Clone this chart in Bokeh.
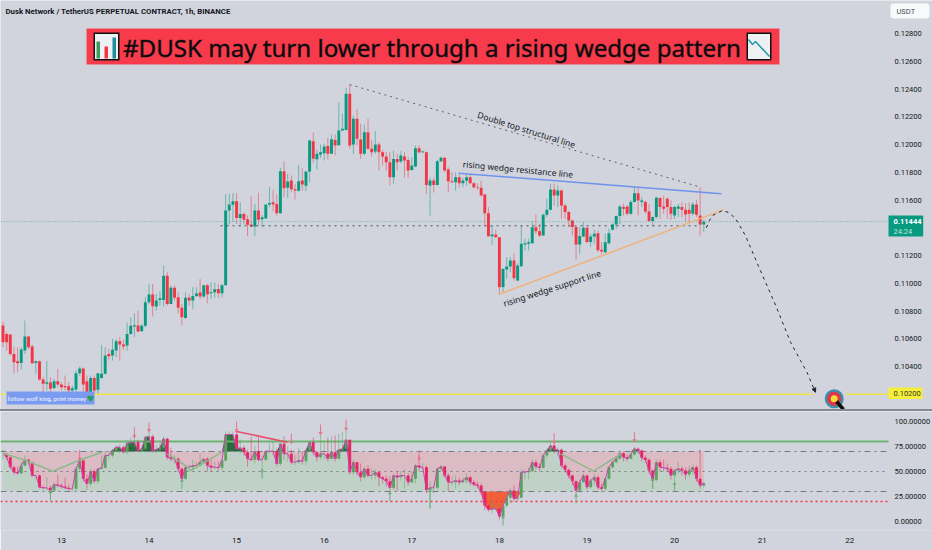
from bokeh.embed import file_html
from bokeh.layouts import column
from bokeh.models import (Arrow, BoxAnnotation, Div, FixedTicker, Label, NormalHead,
                          PrintfTickFormatter, Range1d)
from bokeh.plotting import figure
from bokeh.resources import INLINE
import numpy as np

opens = [
    10695,10635,10630,10491,10438,10426,10515,10616,10544,10426,
    10438,10306,10275,10284,10246,10294,10270,10260,10258,10227,
    10234,10352,10385,10294,10215,10318,10232,10318,10347,10491,
    10479,10515,10582,10558,10551,10635,10688,10695,10654,10693,
    10863,10919,10832,10880,10880,11055,10851,10967,10899,10823,
    10750,10897,10875,10909,10933,10904,10986,10928,10935,10959,
    10928,10986,11524,11565,11591,11471,11500,11462,11423,11409,
    11524,11462,11467,11567,11584,11572,11505,11808,11688,11740,
    11678,11666,11740,11702,11805,12024,11894,11928,11937,11990,
    11933,12033,11995,12101,12105,12365,12000,12185,12036,11933,
    12089,11969,11949,12000,11945,11913,11872,11764,11896,11877,
    11913,11889,11817,11841,11973,11945,11945,11704,11740,11709,
    11880,11904,11820,11736,11728,11764,11721,11738,11764,11721,
    11692,11688,11640,11505,11339,11351,11332,10972,11099,11121,
    11164,11020,11123,11279,11284,11289,11404,11375,11345,11494,
    11530,11676,11633,11669,11561,11513,11453,11405,11280,11337,
    11400,11297,11337,11361,11241,11224,11289,11385,11424,11484,
    11549,11553,11501,11585,11649,11585,11585,11517,11448,11477,
    11614,11553,11609,11549,11489,11537,11549,11529,11529,11501,
    11568,11489,11424]
highs = [
    10724,10647,10630,10539,10539,10539,10731,10623,10558,10443,
    10443,10323,10438,10323,10311,10383,10287,10335,10287,10263,
    10371,10400,10395,10335,10335,10335,10352,10556,10539,10527,
    10599,10599,10611,10594,10719,10755,10784,10803,10707,10899,
    10995,10995,10923,10943,11128,11080,10983,10983,10935,10851,
    10935,10923,10971,10971,11031,10986,10995,11007,11007,10995,
    10995,11644,11644,11649,11649,11584,11512,11488,11628,11572,
    11652,11493,11567,11692,11673,11640,11832,11877,11788,11776,
    11716,11853,11827,11805,12033,12086,11961,12000,12005,12048,
    12072,12072,12305,12221,12408,12432,12209,12257,12149,12144,
    12185,12029,12096,12017,11961,11945,11949,11956,11933,11952,
    11945,11913,11908,11993,11993,11956,11949,11760,11760,11889,
    11913,11908,11836,11800,11800,11784,11760,11784,11788,11728,
    11721,11740,11644,11548,11416,11385,11332,11104,11188,11188,
    11217,11145,11416,11320,11320,11452,11495,11428,11501,11609,
    11717,11717,11705,11676,11573,11520,11457,11405,11405,11441,
    11405,11357,11385,11381,11297,11357,11393,11433,11489,11561,
    11573,11561,11601,11693,11688,11621,11597,11573,11481,11625,
    11621,11633,11621,11597,11561,11573,11585,11577,11585,11585,
    11601,11693,11457]
lows = [
    10539,10515,10479,10352,10359,10378,10491,10527,10419,10347,
    10299,10215,10227,10155,10234,10251,10227,10227,10215,10198,
    10203,10335,10215,10160,10184,10203,10198,10311,10342,10443,
    10443,10467,10443,10520,10515,10630,10611,10647,10654,10683,
    10851,10760,10803,10839,10832,10839,10851,10875,10784,10700,
    10743,10839,10815,10899,10887,10895,10856,10887,10895,10895,
    10899,10983,11423,11440,11428,11409,11423,11339,11404,11339,
    11423,11404,11464,11548,11519,11488,11500,11620,11616,11656,
    11603,11661,11668,11664,11728,11865,11820,11901,11885,11892,
    11933,11921,11993,12101,12101,11969,11932,11993,11896,11920,
    11961,11913,11932,11812,11848,11812,11704,11716,11812,11865,
    11760,11760,11812,11836,11933,11937,11644,11486,11654,11704,
    11872,11800,11656,11721,11668,11688,11692,11704,11716,11680,
    11673,11627,11409,11337,11277,11327,10919,10936,11032,11080,
    11020,11015,11116,11236,11236,11284,11356,11332,11340,11477,
    11525,11561,11549,11465,11465,11405,11345,11169,11213,11333,
    11285,11261,11280,11225,11213,11217,11280,11380,11393,11424,
    11489,11489,11493,11585,11489,11549,11501,11441,11409,11465,
    11465,11501,11465,11457,11465,11477,11477,11441,11441,11489,
    11477,11344,11369]
closes = [
    10575,10575,10491,10431,10424,10522,10616,10539,10424,10438,
    10306,10275,10287,10239,10294,10270,10251,10251,10227,10244,
    10352,10385,10270,10215,10318,10227,10352,10347,10479,10474,
    10520,10582,10558,10544,10635,10693,10698,10652,10693,10863,
    10919,10835,10875,10892,11055,10851,10967,10895,10823,10755,
    10895,10875,10909,10926,10904,10986,10921,10935,10957,10928,
    10986,11524,11567,11591,11471,11500,11457,11421,11409,11524,
    11457,11476,11567,11579,11567,11505,11808,11685,11733,11678,
    11668,11736,11712,11805,12029,11897,11933,11945,11985,11933,
    12038,11993,12101,12113,12365,11993,12185,12041,11933,12089,
    11969,11945,12000,11945,11913,11872,11764,11896,11872,11921,
    11884,11812,11848,11973,11945,11949,11709,11740,11709,11880,
    11904,11812,11736,11728,11764,11721,11740,11764,11721,11692,
    11688,11632,11505,11339,11351,11332,10972,11104,11121,11164,
    11037,11128,11284,11289,11296,11404,11375,11344,11494,11530,
    11676,11633,11669,11561,11513,11453,11405,11280,11340,11400,
    11297,11337,11357,11237,11229,11296,11361,11424,11484,11553,
    11537,11501,11585,11649,11597,11597,11517,11448,11477,11616,
    11549,11537,11549,11501,11549,11553,11529,11496,11501,11568,
    11493,11424,11444]

rsi_close = [
    67.7,64.3,54.3,49.3,48.3,56,61.7,59.3,46,46,
    34.3,33.7,33.7,31,37,36,35,33.7,32.7,32.7,
    52.7,61,42.7,37.7,50.3,40.3,52.7,53.7,66,66,
    71,74.3,74.3,69.3,78.3,79,79.3,71,72.7,84.3,
    85,71,72,73.7,82.7,64.3,62.7,62.7,52.7,42.7,
    54.3,54.3,56,56,59.3,62.7,56,54.3,54.3,53.7,
    61,87,87,87,72.7,73.7,69.3,62.7,61.7,70.3,
    61.7,61.7,70.3,70.3,70.3,57.7,77.7,67.7,67.7,59.3,
    59.3,61,60.3,71,79.3,69.3,64.3,67.7,67.7,62.7,
    69.3,62.7,71.7,72.7,81.7,49.3,59.3,49.3,44.3,52.7,
    46,46,49.3,44.3,42.7,40.3,33.7,46,44.3,46,
    46,39.3,42.7,56,54.3,54.3,31.7,33.7,33.7,52.7,
    55,46,39.3,39.3,41,39.3,41,44.3,39.3,37,
    36,29.3,16,11.7,12.7,12.7,5,16,23.7,31,
    22.7,23.7,49.3,49.3,50.3,59.3,55,53.7,66,71,
    76,71.7,71.7,56,51.7,46,40.3,31,39.3,46,
    34.3,41,44.3,34.3,32.7,42.7,54.3,59.3,62.7,68.3,
    64.3,62.7,67,72.7,71,63.7,61.7,51,41.7,59.3,
    54.3,53.7,52.7,46,51,52.7,51,47,51,54.3,
    42.7,36,38.3]
rsi_high = [
    72,68,65,56,55,60,66,63,60,47,47,36,44,36,39,47,38,44,37,36,
    55,64,62,47,53,52,53,66,71,69,73,76,77,76,81,84,88,82,75,86,
    92,87,76,78,85,84,74,66,64,54,56,57,62,60,68,63,64,62,60,60,
    62,90,90,90,90,82,76,72,85,76,85,66,71,78,80,73,78,85,75,72,
    66,74,70,71,80,84,70,88,80,84,85,86,88,90,93,82,62,60,58,55,
    56,53,52,50,46,46,45,48,50,50,52,48,50,58,66,58,56,40,36,54,
    56,55,48,45,46,44,44,48,46,42,40,38,30,17,22,17,14,16,30,33,
    36,27,52,52,54,62,62,58,68,73,79,78,74,73,58,53,47,41,42,48,
    47,43,48,46,38,44,55,61,65,71,70,67,69,75,74,72,66,63,52,62,
    62,62,58,55,53,60,55,54,56,57,56,72,40]
rsi_low = [
    62,62,53,47,47,47,55,57,44,42,33,32,31,23,30,34,33,32,31,30,
    31,51,40,32,35,38,38,52,53,62,64,70,68,68,67,76,74,70,70,72,
    82,69,68,70,72,62,60,58,50,40,41,50,51,53,55,57,50,50,52,51,
    51,60,80,78,70,68,66,55,60,58,60,43,60,68,66,55,56,62,60,57,
    56,58,57,56,70,66,60,62,62,60,62,60,62,70,72,47,47,46,40,42,
    44,42,42,35,38,35,30,32,30,41,33,36,38,38,50,52,28,14,28,32,
    50,44,30,36,33,36,38,38,36,35,33,27,11,10,8,11,2,4,14,18,
    20,20,24,42,42,50,52,50,53,63,71,68,65,54,49,43,36,28,29,39,
    32,33,36,32,29,31,42,53,58,62,60,60,62,66,68,60,59,48,33,40,
    50,50,50,42,33,48,46,42,45,47,40,33,34]

# wedge annotations: bar number and price
double_top_bars = [95, 190.5]
double_top_prices = [12432, 11697]
resistance_bars = [124.8, 196.8]
resistance_prices = [11793, 11645]
support_bars = [135.8, 197.4]
support_prices = [10919, 11529]
neckline_bars = [59.6, 190.3]
neckline_prices = [11414, 11414]
forecast_bars = [192.7, 193.5, 194.4, 197.1, 198.8, 200.7, 203.4, 207.5, 211.7, 215.8, 218.5, 220.3, 221.4, 222.6]
forecast_prices = [11400, 11450, 11488, 11524, 11510, 11467, 11344, 11092, 10840, 10573, 10443, 10357, 10287, 10215]
target_price = 10200

# rsi pane annotations
zig_bars = [[0, 5.7, 13.7, 20.7, 27.1], [45, 50, 51.5, 60], [152.8, 161.8, 169.3]]
zig_rsi = [[68.3, 61.7, 50.3, 61, 69.3], [67.7, 56, 51, 69.3], [67.7, 50.3, 67.7]]
div_bars = [63.7, 77.9]
div_rsi = [90.3, 79.3]
down_bars = [21, 36, 40, 64, 79, 87, 94, 114, 151, 173]
down_tip = [62.7, 85, 91, 91, 79.3, 88.3, 92.7, 62.7, 79.3, 81]
down_tail = [71.7, 94.3, 99, 100, 88, 97, 102, 71, 88.3, 89.3]
up_bars = [13, 49, 71, 106, 117, 137, 157, 178, 184]
up_tip = [29.3, 41, 51, 28.3, 31, 4.3, 26, 41.7, 37.7]
up_tail = [21, 32.7, 42.7, 20.3, 12.7, -4, 18.3, 32.7, 29.3]

day_labels = ["13", "14", "15", "16", "17", "18", "19", "20", "21", "22"]
day_bars = [16, 40, 64, 88, 112, 136, 160, 184, 208, 232]
price_ticks = [10400, 10600, 10800, 11000, 11200, 11600, 11800, 12000, 12200, 12400, 12600, 12800]
rsi_ticks = [0, 25, 50, 75, 100]

BG = "#d1d4dc"
UP = "#089981"
DOWN = "#f23645"
TEXT = "#131722"
UNIT = 1e-5


# screen position in the reference -> chart coordinates, for decorations only
def px_x(px):
    return (px - 2.5) / 3.65


def px_y(px):
    return (12800 - (px - 33) * 7.207) * UNIT


def prices(values):
    return np.array(values) * UNIT


def style_scale(ax):
    ax.axis_line_color = None
    ax.major_tick_line_color = None
    ax.minor_tick_line_color = None
    ax.major_label_text_font = "Roboto"
    ax.major_label_text_font_size = "7.5px"
    ax.major_label_text_color = TEXT


bars = np.arange(len(closes))
o = prices(opens)
h = prices(highs)
l = prices(lows)
c = prices(closes)
up = c >= o
plot_end = px_x(888)
plot_start = px_x(0)

p = figure(width=932, height=409, output_backend="svg", toolbar_location=None,
           x_axis_location=None, y_axis_location="right",
           x_range=Range1d(plot_start, px_x(932)), y_range=Range1d(px_y(409), px_y(0)),
           background_fill_color=BG, border_fill_color=BG, outline_line_color=None, min_border=0)
p.grid.visible = False

# price scale sits inside the frame so the tags can be drawn over it
price_axis = p.yaxis[0]
price_axis.fixed_location = plot_end
price_axis.ticker = FixedTicker(ticks=list(prices(price_ticks)))
price_axis.formatter = PrintfTickFormatter(format="%.5f")
price_axis.major_label_standoff = 0
style_scale(price_axis)

# candles
p.segment(bars[up], h[up], bars[up], l[up], line_color=UP, line_alpha=0.5, line_width=1)
p.segment(bars[~up], h[~up], bars[~up], l[~up], line_color=DOWN, line_alpha=0.5, line_width=1)
p.vbar(bars[up], 0.8, c[up], o[up], fill_color=UP, line_color=None)
p.vbar(bars[~up], 0.8, o[~up], c[~up], fill_color=DOWN, line_color=None)

# levels and wedge lines
p.line([plot_start, plot_end], [c[-1], c[-1]], line_color="#3fae9a", line_alpha=0.8, line_dash=[1, 2], line_width=1)
p.line(neckline_bars, prices(neckline_prices), line_color="#4a4d57", line_dash="dotted", line_width=1)
p.line(double_top_bars, prices(double_top_prices), line_color="#5d606b", line_dash="dotted", line_width=1)
p.line(resistance_bars, prices(resistance_prices), line_color="#6f92ee", line_width=1.5)
p.line(support_bars, prices(support_prices), line_color="#efb27c", line_width=1.5)
p.line(forecast_bars, prices(forecast_prices), line_color="#202329", line_dash=[3, 4], line_width=1)
p.add_layout(Arrow(end=NormalHead(size=4, fill_color="#202329", line_color="#202329"),
                   x_start=forecast_bars[-2], y_start=forecast_prices[-2] * UNIT,
                   x_end=forecast_bars[-1], y_end=forecast_prices[-1] * UNIT, line_alpha=0))

# target line, with the gap around the bullseye
p.line([plot_start, px_x(813)], [target_price * UNIT] * 2, line_color="#f2e34a", line_width=1.5)
p.line([px_x(845), plot_end], [target_price * UNIT] * 2, line_color="#f2e34a", line_width=1.5)
for size, colour in [(19, "#3f8fa8"), (14, "#e2344a"), (7, "#f2dc3a")]:
    p.scatter([px_x(833.7)], [px_y(398.3)], marker="circle", size=size, fill_color=colour, line_color=None)
p.line([px_x(836), px_x(843)], [px_y(401), px_y(409)], line_color="#101010", line_width=3.5)

# banner
p.add_layout(BoxAnnotation(left=px_x(86), right=px_x(779), top=px_y(28), bottom=px_y(64),
                           fill_color="#f73b4b", fill_alpha=1, line_color="#e8a0a8", line_width=1))
p.add_layout(Label(x=px_x(122.5), y=px_y(46.5), text="#DUSK may turn lower through a rising wedge pattern",
                   text_font="Noto Sans", text_font_size="24.1px", text_color="#0a0a0e", text_baseline="middle",
                   text_outline_color="#0a0a0e66"))
for left, right, top, bottom, colour in [(93, 119, 32, 60, "#101010"), (94.5, 117.5, 33.5, 58.5, "#eef1f3"),
                                         (96, 99.5, 41, 58, "#3f9a5c"), (104, 107.5, 46, 58, "#f23645"),
                                         (112, 115.5, 37, 58, "#1f8fa0"),
                                         (746, 771, 32, 60, "#101010"), (747.5, 769.5, 33.5, 58.5, "#eef1f3")]:
    p.add_layout(BoxAnnotation(left=px_x(left), right=px_x(right), top=px_y(top), bottom=px_y(bottom),
                               fill_color=colour, fill_alpha=1, line_color=None))
p.line([px_x(748), px_x(752), px_x(755), px_x(769)], [px_y(39), px_y(44), px_y(41), px_y(56)],
       line_color="#1f9aa8", line_width=1.5, level="overlay")

# texts
p.add_layout(Label(x=px_x(5), y=px_y(11), text="Dusk Network / TetherUS PERPETUAL CONTRACT, 1h, BINANCE",
                   text_font="Roboto", text_font_size="7.8px", text_color=TEXT, text_baseline="middle",
                   text_font_style="bold"))
for text, x, y, angle in [("Double top structural line", 526, 129, -17.4),
                          ("rising wedge resistance line", 517.5, 168.5, -5.5),
                          ("rising wedge support line", 551.5, 287.5, 17.7)]:
    p.add_layout(Label(x=px_x(x), y=px_y(y), text=text, angle=angle, angle_units="deg", text_font="Noto Sans",
                       text_font_size="8.5px", text_color=TEXT, text_align="center", text_baseline="middle"))

p.add_layout(BoxAnnotation(left=px_x(6), right=px_x(94), top=px_y(391), bottom=px_y(404),
                           fill_color="#7a9bf0", fill_alpha=1, line_color=None))
p.add_layout(Label(x=px_x(7), y=px_y(398), text="follow wolf king, print money", text_font="Roboto",
                   text_font_size="6.2px", text_color="#f4f6ff", text_baseline="middle"))
p.add_layout(Label(x=px_x(90), y=px_y(398), text="\u2665", text_font="DejaVu Sans", text_font_size="9px",
                   text_color="#2f9e58", text_align="center", text_baseline="middle"))

# price axis tags
p.add_layout(BoxAnnotation(left=px_x(888), right=px_x(922), top=px_y(387), bottom=px_y(398.5),
                           fill_color="#f7ee3c", fill_alpha=1, line_color=None))
p.add_layout(Label(x=px_x(893), y=px_y(393), text="0.10200", text_font="Roboto", text_font_size="7.5px",
                   text_color="#2c3a20", text_baseline="middle"))
p.add_layout(BoxAnnotation(left=px_x(888), right=px_x(922.7), top=px_y(215), bottom=px_y(236),
                           fill_color=UP, fill_alpha=1, line_color=None))
p.add_layout(Label(x=px_x(893), y=px_y(221), text="0.11444", text_font="Roboto", text_font_size="7.5px",
                   text_color="#ffffff", text_baseline="middle", text_font_style="bold"))
p.add_layout(Label(x=px_x(893), y=px_y(231), text="24:24", text_font="Roboto", text_font_size="7.5px",
                   text_color="#c5e6de", text_baseline="middle"))
p.add_layout(BoxAnnotation(left=px_x(890), right=px_x(929), top=px_y(3), bottom=px_y(18), fill_color="#f8f9fb",
                           fill_alpha=1, line_color=None, border_radius=3))
p.add_layout(Label(x=px_x(896), y=px_y(11), text="USDT", text_font="Roboto", text_font_size="7.5px",
                   text_color="#4a4d57", text_baseline="middle"))

# separator between the panes
sep = Div(text="", width=932, height=2, margin=(0, 0, 0, 0),
          styles={"background-color": "#868993", "overflow": "hidden"})

# rsi pane
rsi = np.array(rsi_close)
rsi_o = np.array([rsi_close[0]] + rsi_close[:-1])
rsi_h = np.array(rsi_high)
rsi_l = np.array(rsi_low)
rsi_up = rsi >= rsi_o

q = figure(width=932, height=139, output_backend="svg", toolbar_location=None, y_axis_location="right",
           x_range=p.x_range, y_range=Range1d(-9, 110),
           background_fill_color=BG, border_fill_color=BG, outline_line_color=None,
           min_border=0, min_border_bottom=20)
q.grid.visible = False
rsi_axis = q.yaxis[0]
rsi_axis.fixed_location = plot_end
rsi_axis.ticker = FixedTicker(ticks=rsi_ticks)
rsi_axis.formatter = PrintfTickFormatter(format="%.5f")
rsi_axis.major_label_standoff = 0
style_scale(rsi_axis)
q.xaxis[0].ticker = FixedTicker(ticks=day_bars)
q.xaxis[0].major_label_overrides = dict(zip(day_bars, day_labels))
style_scale(q.xaxis[0])
q.xaxis[0].major_label_text_font_size = "8px"
q.xaxis[0].major_label_standoff = 1

clipped = np.clip(rsi, 30, 70)
q.varea(bars, clipped, np.full(len(bars), 70), fill_color="#dcbcc4")
q.varea(bars, np.full(len(bars), 30), clipped, fill_color="#c0d2c8")
q.varea(bars, np.full(len(bars), 70), np.maximum(rsi, 70), fill_color="#2b6a40")
q.varea(bars, np.minimum(rsi, 30), np.full(len(bars), 30), fill_color="#f2603a")

level_span = [plot_start, plot_end]
q.line(level_span, [80, 80], line_color="#6cb46f", line_width=2)
q.line(level_span, [70, 70], line_color="#787b86", line_dash="dashdot", line_width=1)
q.line(level_span, [50, 50], line_color="#787b86", line_dash="dotted", line_width=1)
q.line(level_span, [30, 30], line_color="#787b86", line_dash="dashdot", line_width=1)
q.line(level_span, [20, 20], line_color=DOWN, line_dash=[2, 3], line_width=1.5)

q.segment(bars[rsi_up], rsi_h[rsi_up], bars[rsi_up], rsi_l[rsi_up], line_color="#5aa35e", line_alpha=0.5)
q.segment(bars[~rsi_up], rsi_h[~rsi_up], bars[~rsi_up], rsi_l[~rsi_up], line_color="#e5265f", line_alpha=0.5)
q.vbar(bars[rsi_up], 0.8, rsi[rsi_up], rsi_o[rsi_up], fill_color="#5aa35e", line_color=None)
q.vbar(bars[~rsi_up], 0.8, rsi_o[~rsi_up], rsi[~rsi_up], fill_color="#e5265f", line_color=None)
q.line(bars, rsi, line_color="#cf3fb5", line_width=1)

q.multi_line(zig_bars, zig_rsi, line_color="#8dba8d", line_width=1.5)
q.line(div_bars, div_rsi, line_color="#e84c6c", line_width=1.5)

q.segment(down_bars, down_tail, down_bars, down_tip, line_color="#e8738a", line_width=1)
q.scatter(down_bars, down_tip, marker="inverted_triangle", size=4, fill_color="#e8738a", line_color=None)
q.segment(up_bars, up_tail, up_bars, up_tip, line_color="#6fb07a", line_width=1)
q.scatter(up_bars, up_tip, marker="triangle", size=4, fill_color="#6fb07a", line_color=None)

layout = column(p, sep, q, spacing=0)

open("out.html", "w").write(file_html(layout, INLINE))
